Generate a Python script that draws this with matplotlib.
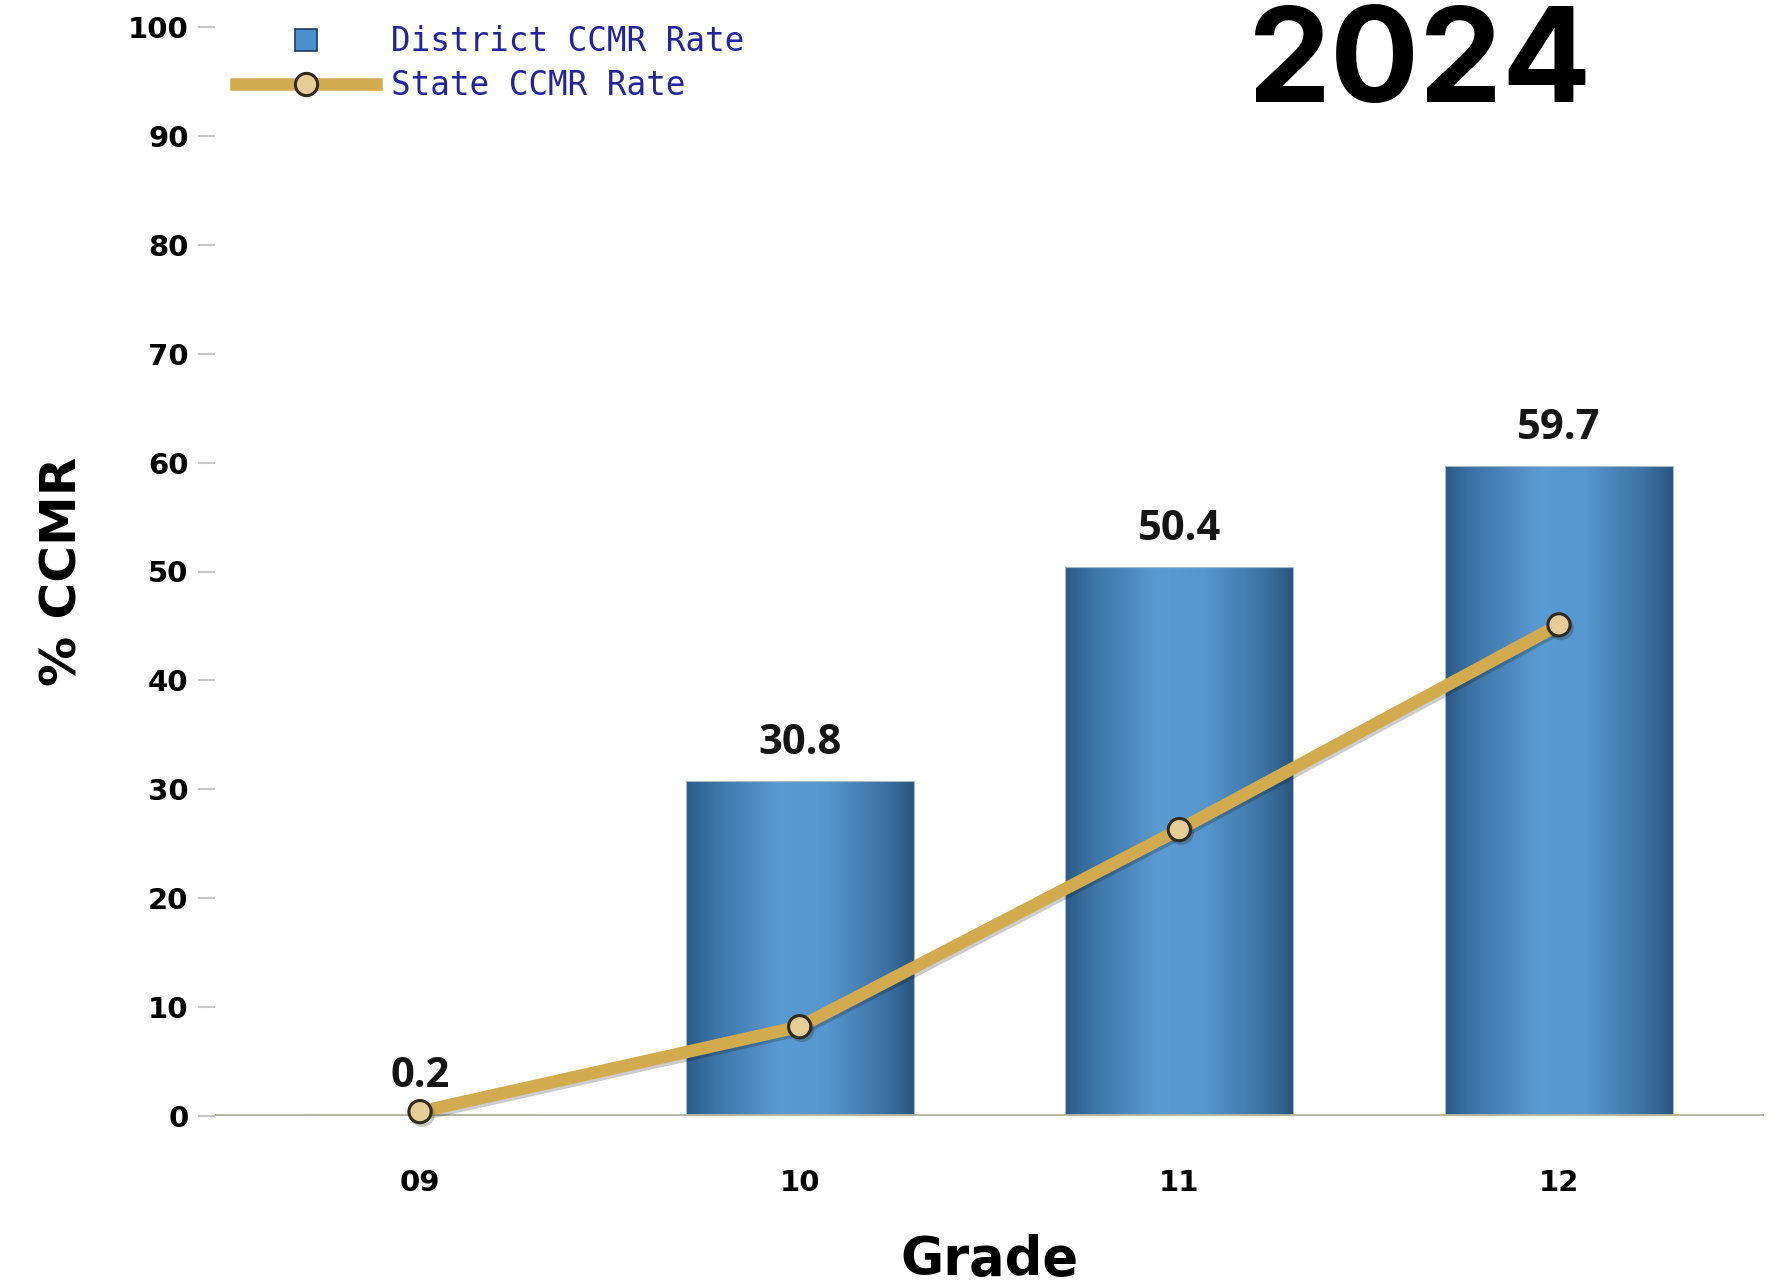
import numpy as np
import matplotlib
matplotlib.use("Agg")
import matplotlib.pyplot as plt
import matplotlib.patheffects as pe
from matplotlib import font_manager
from matplotlib.colors import LinearSegmentedColormap
from matplotlib.lines import Line2D

grades = ['09', '10', '11', '12']
district_rate = [0.2, 30.8, 50.4, 59.7]
state_rate = [0.4, 8.2, 26.3, 45.1]
y_ticks = [0, 10, 20, 30, 40, 50, 60, 70, 80, 90, 100]
series_names = ['District CCMR Rate', 'State CCMR Rate']
year = '2024'


def pick_font(*names):
    installed = {f.name for f in font_manager.fontManager.ttflist}
    for name in names:
        if name in installed:
            return name
    return 'DejaVu Sans'


def main():
    axis_font = pick_font('DejaVu Sans Condensed', 'Liberation Sans Narrow', 'DejaVu Sans')
    value_font = pick_font('Open Sans', 'Noto Sans', 'DejaVu Sans')
    year_font = pick_font('Inter', 'Open Sans', 'DejaVu Sans')

    gold = '#d2ab4e'
    navy = '#23239a'
    bar_cmap = LinearSegmentedColormap.from_list('bar', [
        (0.00, '#2b5a87'), (0.12, '#3c74a6'), (0.42, '#5c9bd1'),
        (0.62, '#5696cc'), (0.88, '#3c71a1'), (1.00, '#2a5580')])

    fig = plt.figure(figsize=(17.75, 12.86), dpi=100)
    ax = fig.add_axes([215 / 1775, 170 / 1286, 1549 / 1775, 1089 / 1286])

    x = np.arange(len(grades))

    # bars: outline patches, filled with a horizontal shading
    bars = ax.bar(x, district_rate, width=0.6, color='none',
                  edgecolor='#a9b8c6', linewidth=0.8, zorder=3)
    grad = np.linspace(0, 1, 256).reshape(1, -1)
    for patch in bars:
        x0, y0 = patch.get_x(), patch.get_y()
        img = ax.imshow(grad, cmap=bar_cmap, aspect='auto', zorder=2,
                        interpolation='bicubic',
                        extent=(x0, x0 + patch.get_width(), y0, y0 + patch.get_height()))
        img.set_clip_path(patch)

    ax.bar_label(bars, labels=[f'{v:.1f}' for v in district_rate], padding=12,
                 fontsize=30, fontfamily=value_font, fontweight='bold', color='#151515')

    ax.axhline(0, color='#b6b6a6', lw=3.5, zorder=3.5)

    ax.plot(x, state_rate, color=gold, lw=9, zorder=4, clip_on=False,
            marker='o', markersize=16, markerfacecolor='#e6cc96',
            markeredgecolor='#2f2a1c', markeredgewidth=2.2,
            path_effects=[pe.SimpleLineShadow(offset=(1.5, -2), alpha=0.2), pe.Normal()])

    ax.set_xlim(-0.54, 3.54)
    ax.set_ylim(0, 100)
    for side in ax.spines.values():
        side.set_visible(False)

    ax.set_yticks(y_ticks, labels=[str(t) for t in y_ticks],
                  fontsize=21, fontweight='bold', fontfamily=axis_font)
    ax.set_xticks(x, labels=grades, fontsize=21, fontweight='bold', fontfamily=axis_font)
    ax.tick_params(axis='y', length=12, width=1.5, color='#c8c8c8', pad=7)
    ax.tick_params(axis='x', length=0, pad=38)

    ax.set_ylabel('% CCMR', fontsize=36, fontweight='bold', fontfamily=axis_font)
    ax.yaxis.set_label_coords(-0.083, 0.5)
    ax.set_xlabel('Grade', fontsize=38, fontweight='bold', fontfamily=axis_font)
    ax.xaxis.set_label_coords(0.5, -0.108)

    handles = [
        Line2D([], [], ls='none', marker='s', markersize=16,
               markerfacecolor='#4b8fcc', markeredgecolor='#1f3d5c', markeredgewidth=1.2),
        Line2D([], [], color=gold, lw=9, marker='o', markersize=16,
               markerfacecolor='#e6cc96', markeredgecolor='#2f2a1c', markeredgewidth=2.2),
    ]
    ax.legend(handles, series_names, loc='upper left',
              bbox_to_anchor=(236 / 1775, 1 - 25 / 1286), bbox_transform=fig.transFigure,
              frameon=False, prop={'family': 'DejaVu Sans Mono', 'size': 23.5},
              labelcolor=navy, handlelength=4.3, handletextpad=0.45,
              labelspacing=0.35, borderpad=0, borderaxespad=0)

    fig.text(1420 / 1775, 1 - 102 / 1286, year, ha='center', va='baseline',
             fontsize=95, fontweight='bold', fontfamily=year_font, color='black')

    fig.savefig('out.png', dpi=100)


if __name__ == "__main__":
    main()
